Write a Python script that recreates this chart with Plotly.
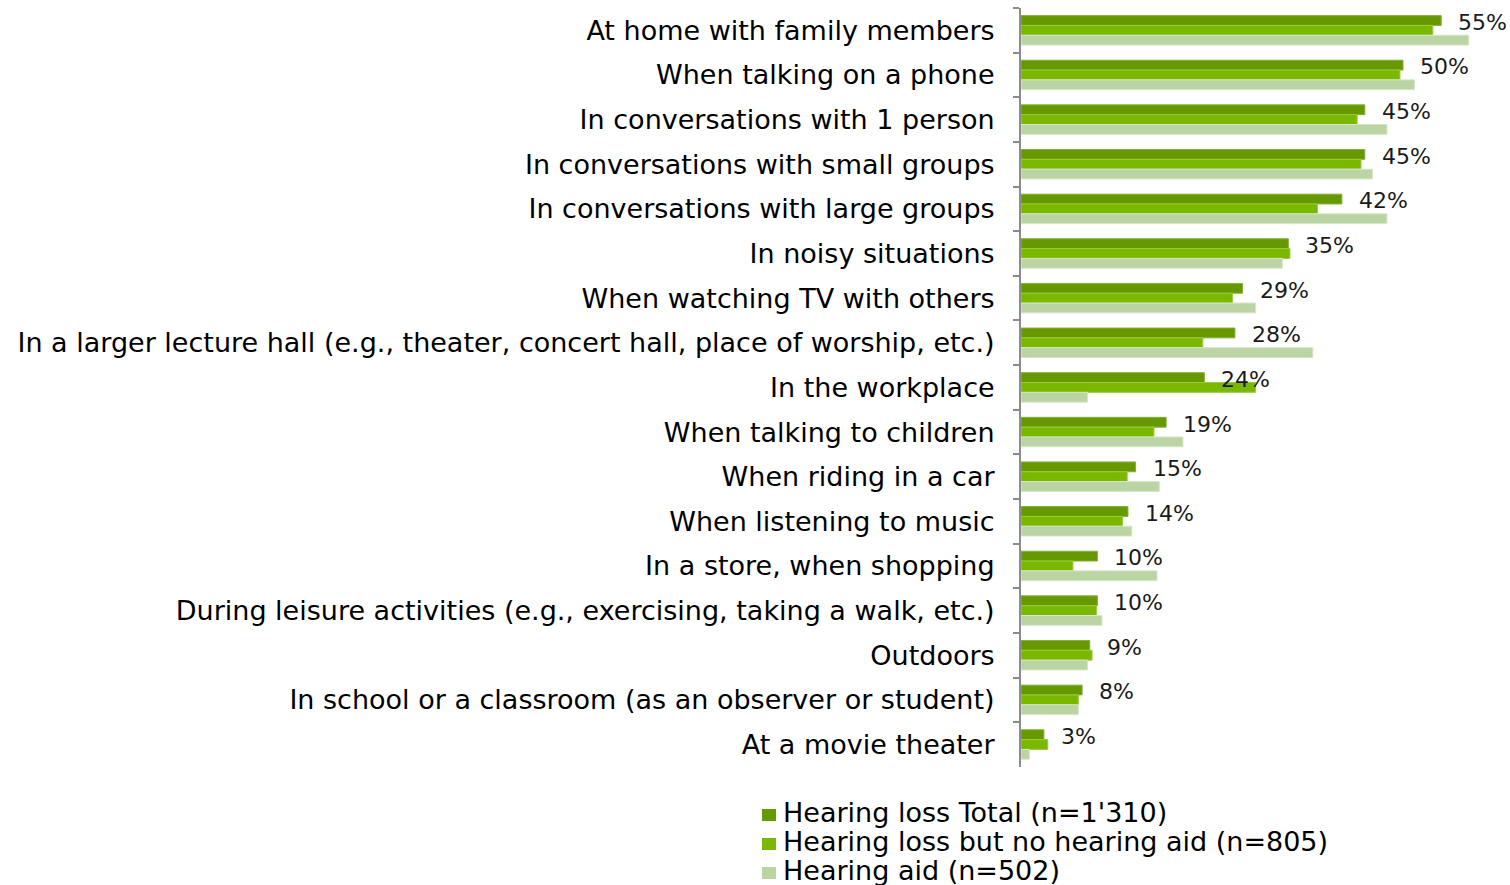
import plotly.graph_objects as go

# Situations, listed top to bottom
categories = [
    "At home with family members",
    "When talking on a phone",
    "In conversations with 1 person",
    "In conversations with small groups",
    "In conversations with large groups",
    "In noisy situations",
    "When watching TV with others",
    "In a larger lecture hall (e.g., theater, concert hall, place of worship, etc.)",
    "In the workplace",
    "When talking to children",
    "When riding in a car",
    "When listening to music",
    "In a store, when shopping",
    "During leisure activities (e.g., exercising, taking a walk, etc.)",
    "Outdoors",
    "In school or a classroom (as an observer or student)",
    "At a movie theater",
]

# Share of respondents (%)
hearing_loss_total = [55, 50, 45, 45, 42, 35, 29, 28, 24, 19, 15, 14, 10, 10, 9, 8, 3]
no_hearing_aid = [53.9, 49.6, 44.0, 44.5, 38.8, 35.2, 27.7, 23.8, 30.7, 17.4, 13.9, 13.3, 6.8, 9.9, 9.3, 7.5, 3.5]
hearing_aid = [58.6, 51.5, 47.9, 46.0, 47.9, 34.2, 30.7, 38.2, 8.7, 21.2, 18.1, 14.5, 17.8, 10.6, 8.7, 7.5, 1.1]

series_names = [
    "Hearing loss Total (n=1'310)",
    "Hearing loss but no hearing aid (n=805)",
    "Hearing aid (n=502)",
]
series_colors = ["#669900", "#7AB800", "#BAD5A3"]
edge_colors = ["#85B038", "#9CCB3C", "#D6E7C8"]

FONT = "DejaVu Sans, Verdana, sans-serif"
W, H = 1510, 885
ML, MR, MT, MB = 1021, 5, 8, 118
PW, PH = W - ML - MR, H - MT - MB


def px_x(px):
    """Horizontal pixel position -> paper fraction."""
    return (px - ML) / PW


def px_y(py):
    """Vertical pixel position (from top) -> paper fraction."""
    return (H - MB - py) / PH


fig = go.Figure()
for name, vals, col, edge in zip(series_names,
                                 [hearing_loss_total, no_hearing_aid, hearing_aid],
                                 series_colors, edge_colors):
    fig.add_trace(go.Bar(
        y=categories, x=vals, name=name, orientation="h",
        marker=dict(color=col, line=dict(color=edge, width=1)),
    ))

# Value labels next to the total bars
for cat, v in zip(categories, hearing_loss_total):
    fig.add_annotation(
        x=v, y=cat, text=f"{v}%", showarrow=False,
        xanchor="left", yanchor="middle", xshift=15, yshift=8,
        font=dict(family=FONT, size=22, color="#1a1a1a"),
    )

# Legend below the chart: coloured squares with series names
legend_left = 762
legend_rows = [812, 841, 870]
for name, col, row in zip(series_names, series_colors, legend_rows):
    fig.add_shape(
        type="rect", xref="paper", yref="paper",
        x0=px_x(legend_left), x1=px_x(legend_left + 14),
        y0=px_y(row + 9), y1=px_y(row - 3),
        fillcolor=col, line=dict(width=0), layer="above",
    )
    fig.add_annotation(
        xref="paper", yref="paper", x=px_x(legend_left + 19), y=px_y(row),
        text=name, showarrow=False, xanchor="left", yanchor="middle",
        font=dict(family=FONT, size=27, color="#000000"),
    )

fig.update_layout(
    width=W, height=H,
    margin=dict(l=ML, r=MR, t=MT, b=MB),
    barmode="group", bargap=0.34, bargroupgap=0,
    plot_bgcolor="white", paper_bgcolor="white",
    font=dict(family=FONT, size=27, color="#000000"),
    showlegend=False,
    xaxis=dict(range=[0, 63.35], visible=False, fixedrange=True),
    yaxis=dict(
        autorange="reversed", type="category",
        showline=True, linecolor="#8C8C8C", linewidth=2,
        ticks="outside", tickson="boundaries", ticklen=6, tickwidth=2, tickcolor="#8C8C8C",
        ticklabelstandoff=19,
        showgrid=False, zeroline=False,
    ),
)

fig.write_html("out.html")
